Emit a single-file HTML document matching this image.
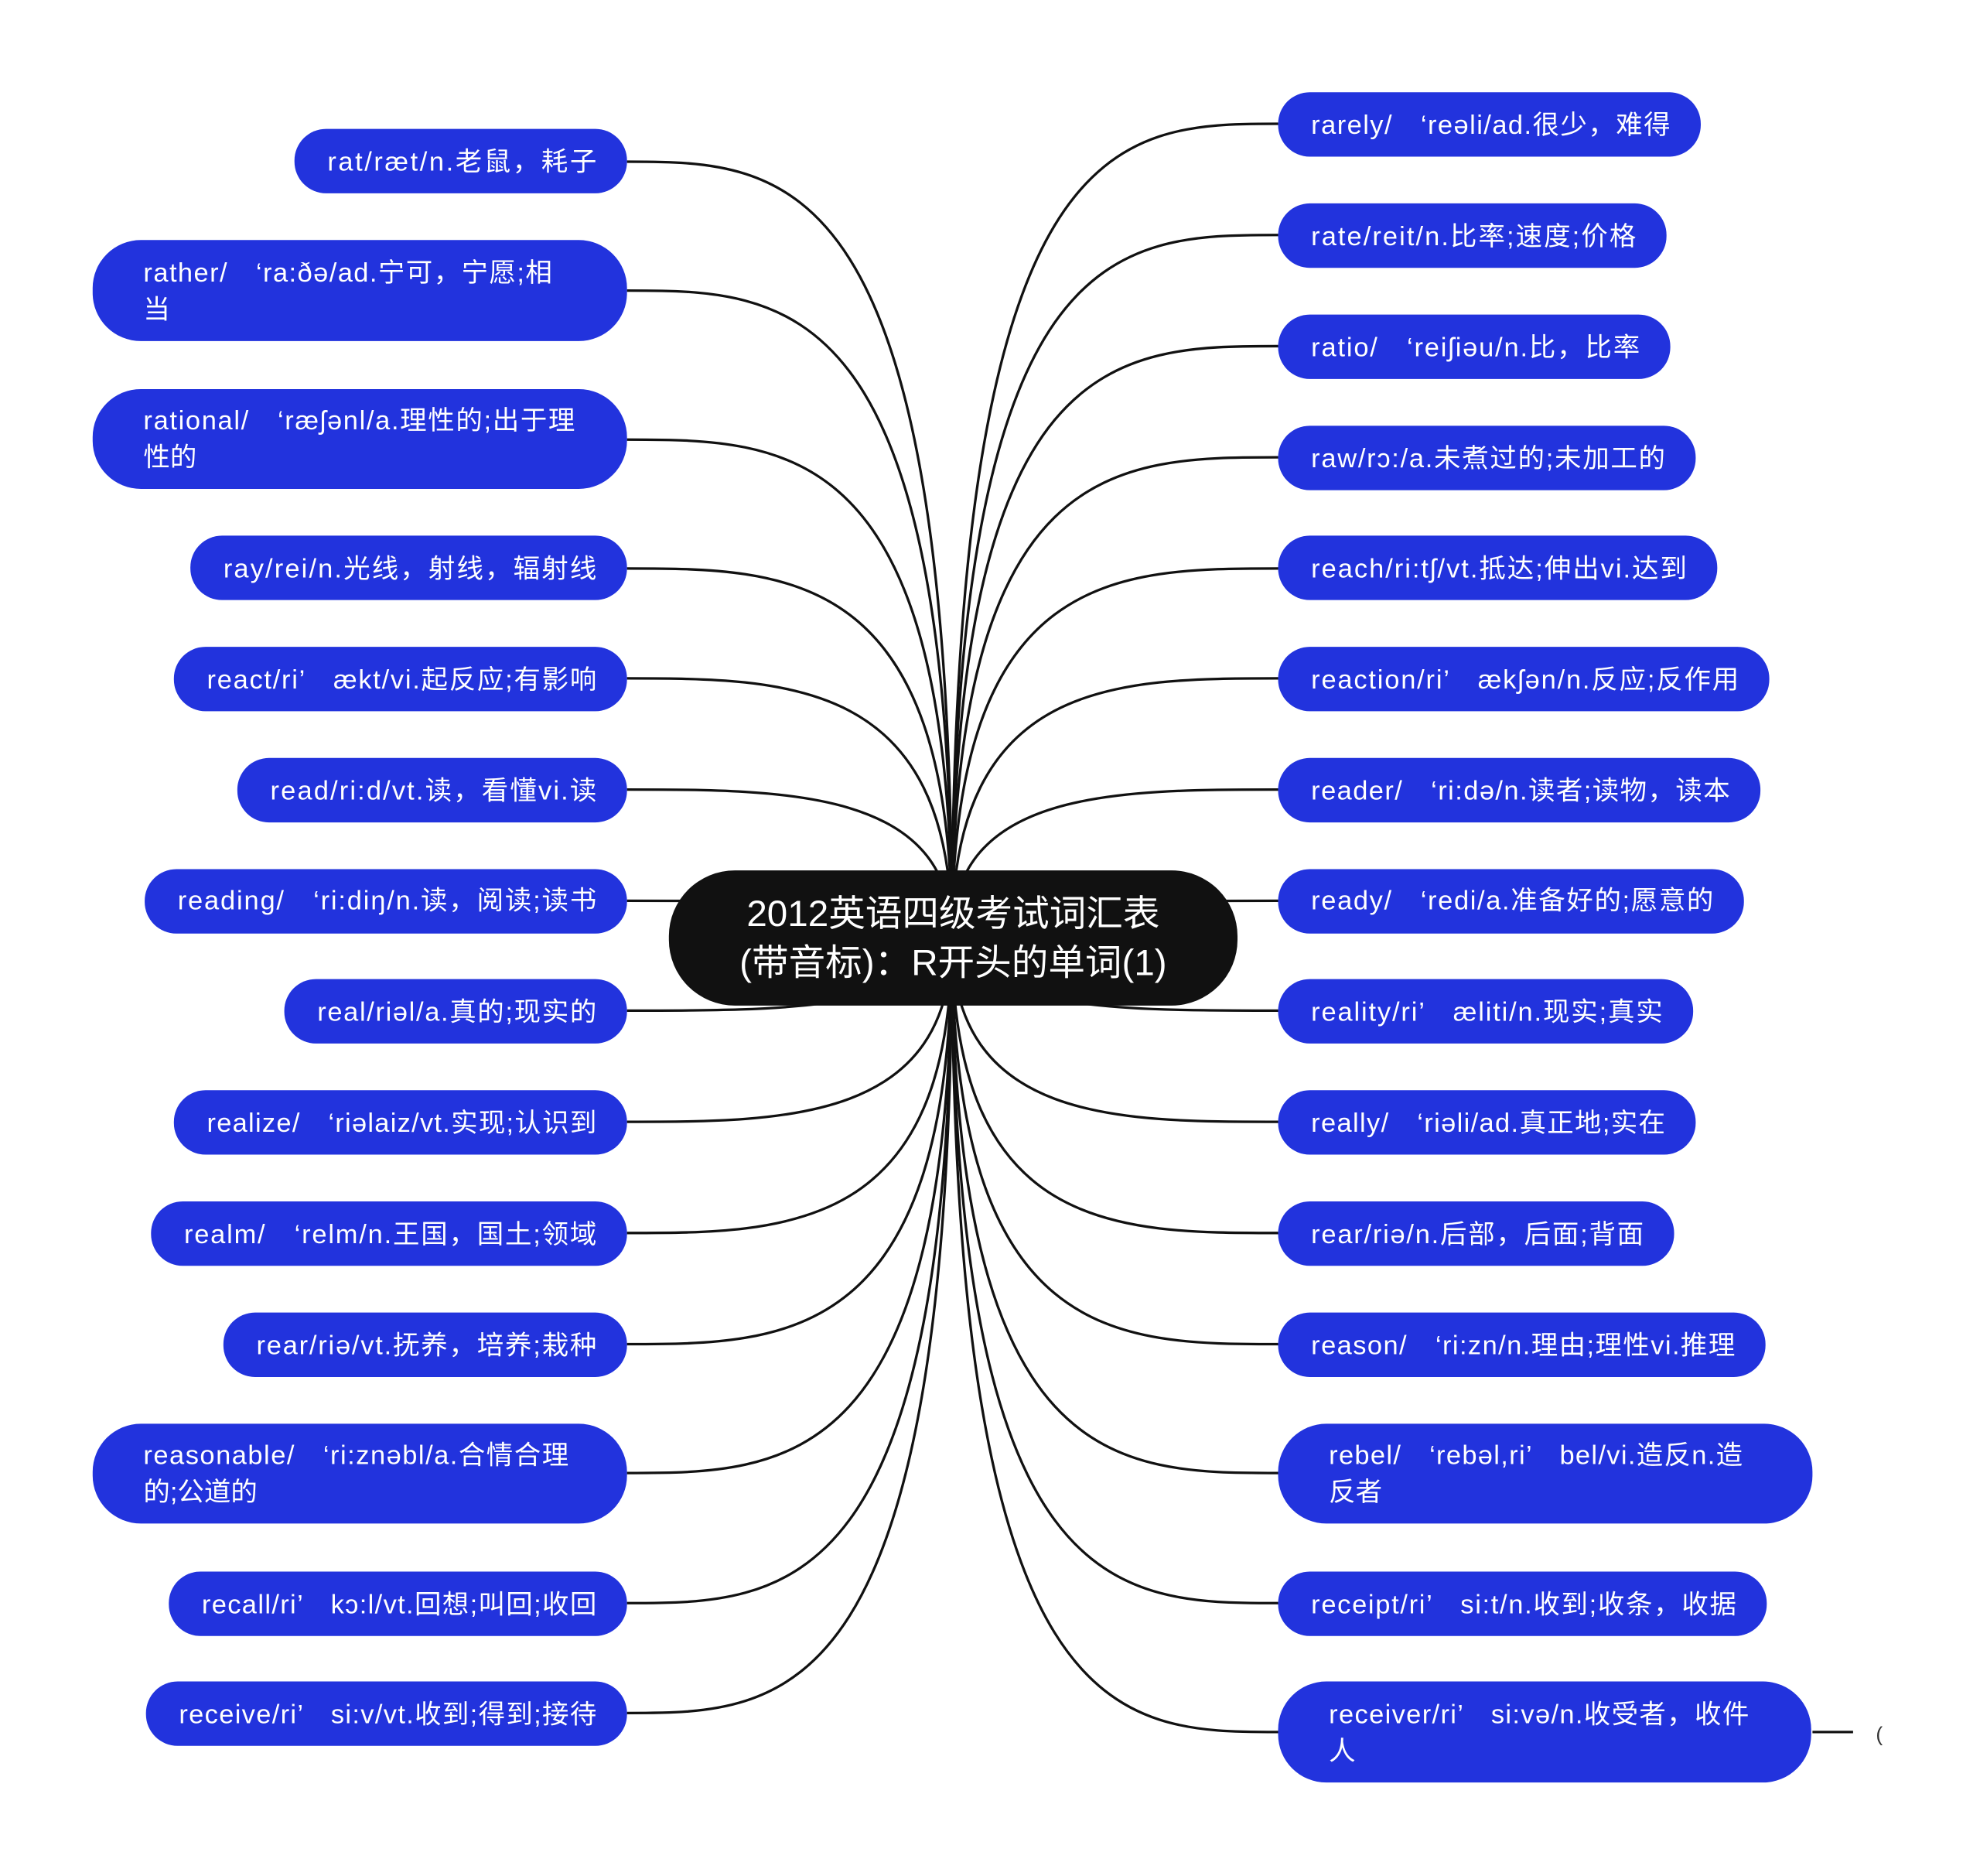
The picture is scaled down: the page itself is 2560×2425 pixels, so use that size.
<!DOCTYPE html>
<html><head><meta charset="utf-8"><style>
html,body{margin:0;padding:0;background:#fff;}
svg{display:block}
text{font-family:"Liberation Sans","Noto Sans CJK SC",sans-serif;}
</style></head><body>
<svg width="2560" height="2425" viewBox="0 0 1560 1485" preserveAspectRatio="none" xmlns="http://www.w3.org/2000/svg">
<g fill="none" stroke="#111" stroke-width="2">
<path d="M750 742 C750 128 620 128 494 128"/>
<path d="M750 742 C750 230 620 230 494 230"/>
<path d="M750 742 C750 348 620 348 494 348"/>
<path d="M750 742 C750 450 620 450 494 450"/>
<path d="M750 742 C750 537 620 537 494 537"/>
<path d="M750 742 C750 625 620 625 494 625"/>
<path d="M750 742 C720 713 620 713 494 713"/>
<path d="M750 742 C720 800 620 800 494 800"/>
<path d="M750 742 C750 888 620 888 494 888"/>
<path d="M750 742 C750 976 620 976 494 976"/>
<path d="M750 742 C750 1064 620 1064 494 1064"/>
<path d="M750 742 C750 1166 620 1166 494 1166"/>
<path d="M750 742 C750 1269 620 1269 494 1269"/>
<path d="M750 742 C750 1356 620 1356 494 1356"/>
<path d="M750 742 C750 98 880 98 1007 98"/>
<path d="M750 742 C750 186 880 186 1007 186"/>
<path d="M750 742 C750 274 880 274 1007 274"/>
<path d="M750 742 C750 362 880 362 1007 362"/>
<path d="M750 742 C750 450 880 450 1007 450"/>
<path d="M750 742 C750 537 880 537 1007 537"/>
<path d="M750 742 C750 625 880 625 1007 625"/>
<path d="M750 742 C780 713 880 713 1007 713"/>
<path d="M750 742 C780 800 880 800 1007 800"/>
<path d="M750 742 C750 888 880 888 1007 888"/>
<path d="M750 742 C750 976 880 976 1007 976"/>
<path d="M750 742 C750 1064 880 1064 1007 1064"/>
<path d="M750 742 C750 1166 880 1166 1007 1166"/>
<path d="M750 742 C750 1269 880 1269 1007 1269"/>
<path d="M750 742 C750 1371 880 1371 1007 1371"/>
<path d="M1428 1371 L1460 1371"/>
</g>
<text x="1478" y="1378" font-size="16" fill="#333">(</text>
<g fill="#2233dd">
<rect x="232" y="102" width="262" height="51" rx="25"/>
<rect x="73" y="190" width="421" height="80" rx="38"/>
<rect x="73" y="308" width="421" height="79" rx="38"/>
<rect x="150" y="424" width="344" height="51" rx="25"/>
<rect x="137" y="512" width="357" height="51" rx="25"/>
<rect x="187" y="600" width="307" height="51" rx="25"/>
<rect x="114" y="688" width="380" height="51" rx="25"/>
<rect x="224" y="775" width="270" height="51" rx="25"/>
<rect x="137" y="863" width="357" height="51" rx="25"/>
<rect x="119" y="951" width="375" height="51" rx="25"/>
<rect x="176" y="1039" width="318" height="51" rx="25"/>
<rect x="73" y="1127" width="421" height="79" rx="38"/>
<rect x="133" y="1244" width="361" height="51" rx="25"/>
<rect x="115" y="1331" width="379" height="51" rx="25"/>
<rect x="1007" y="73" width="333" height="51" rx="25"/>
<rect x="1007" y="161" width="306" height="51" rx="25"/>
<rect x="1007" y="249" width="309" height="51" rx="25"/>
<rect x="1007" y="337" width="329" height="51" rx="25"/>
<rect x="1007" y="424" width="346" height="51" rx="25"/>
<rect x="1007" y="512" width="387" height="51" rx="25"/>
<rect x="1007" y="600" width="380" height="51" rx="25"/>
<rect x="1007" y="688" width="367" height="51" rx="25"/>
<rect x="1007" y="775" width="327" height="51" rx="25"/>
<rect x="1007" y="863" width="329" height="51" rx="25"/>
<rect x="1007" y="951" width="312" height="51" rx="25"/>
<rect x="1007" y="1039" width="384" height="51" rx="25"/>
<rect x="1007" y="1127" width="421" height="79" rx="38"/>
<rect x="1007" y="1244" width="385" height="51" rx="25"/>
<rect x="1007" y="1331" width="420" height="80" rx="38"/>
</g>
<rect x="527" y="689" width="448" height="107" rx="52" fill="#111"/>
<g fill="#fff" font-size="29" text-anchor="middle">
<text x="751" y="733">2012英语四级考试词汇表</text>
<text x="751" y="772">(带音标)：R开头的单词(1)</text>
</g>
<g fill="#fff" font-size="21" lengthAdjust="spacingAndGlyphs">
<text x="258" y="135" textLength="212">rat/ræt/n.老鼠，耗子</text>
<text x="176" y="457" textLength="294">ray/rei/n.光线，射线，辐射线</text>
<text x="163" y="545" textLength="307">react/ri’　ækt/vi.起反应;有影响</text>
<text x="213" y="633" textLength="257">read/ri:d/vt.读，看懂vi.读</text>
<text x="140" y="720" textLength="330">reading/　‘ri:diŋ/n.读，阅读;读书</text>
<text x="250" y="808" textLength="220">real/riəl/a.真的;现实的</text>
<text x="163" y="896" textLength="307">realize/　‘riəlaiz/vt.实现;认识到</text>
<text x="145" y="984" textLength="325">realm/　‘relm/n.王国，国土;领域</text>
<text x="202" y="1072" textLength="268">rear/riə/vt.抚养，培养;栽种</text>
<text x="159" y="1277" textLength="311">recall/ri’　kɔ:l/vt.回想;叫回;收回</text>
<text x="141" y="1364" textLength="329">receive/ri’　si:v/vt.收到;得到;接待</text>
<text x="1033" y="106" textLength="283">rarely/　‘reəli/ad.很少，难得</text>
<text x="1033" y="194" textLength="256">rate/reit/n.比率;速度;价格</text>
<text x="1033" y="282" textLength="259">ratio/　‘reiʃiəu/n.比，比率</text>
<text x="1033" y="370" textLength="279">raw/rɔ:/a.未煮过的;未加工的</text>
<text x="1033" y="457" textLength="296">reach/ri:tʃ/vt.抵达;伸出vi.达到</text>
<text x="1033" y="545" textLength="337">reaction/ri’　ækʃən/n.反应;反作用</text>
<text x="1033" y="633" textLength="330">reader/　‘ri:də/n.读者;读物，读本</text>
<text x="1033" y="720" textLength="317">ready/　‘redi/a.准备好的;愿意的</text>
<text x="1033" y="808" textLength="277">reality/ri’　æliti/n.现实;真实</text>
<text x="1033" y="896" textLength="279">really/　‘riəli/ad.真正地;实在</text>
<text x="1033" y="984" textLength="262">rear/riə/n.后部，后面;背面</text>
<text x="1033" y="1072" textLength="334">reason/　‘ri:zn/n.理由;理性vi.推理</text>
<text x="1033" y="1277" textLength="335">receipt/ri’　si:t/n.收到;收条，收据</text>
</g>
<g fill="#fff" font-size="21" lengthAdjust="spacingAndGlyphs">
<text x="113" y="223" textLength="322">rather/　‘ra:ðə/ad.宁可，宁愿;相</text>
<text x="113" y="252">当</text>
<text x="113" y="340" textLength="340">rational/　‘ræʃənl/a.理性的;出于理</text>
<text x="113" y="369">性的</text>
<text x="113" y="1159" textLength="335">reasonable/　‘ri:znəbl/a.合情合理</text>
<text x="113" y="1188">的;公道的</text>
<text x="1047" y="1159" textLength="326">rebel/　‘rebəl,ri’　bel/vi.造反n.造</text>
<text x="1047" y="1188">反者</text>
<text x="1047" y="1364" textLength="331">receiver/ri’　si:və/n.收受者，收件</text>
<text x="1047" y="1393">人</text>
</g>
</svg>
</body></html>
